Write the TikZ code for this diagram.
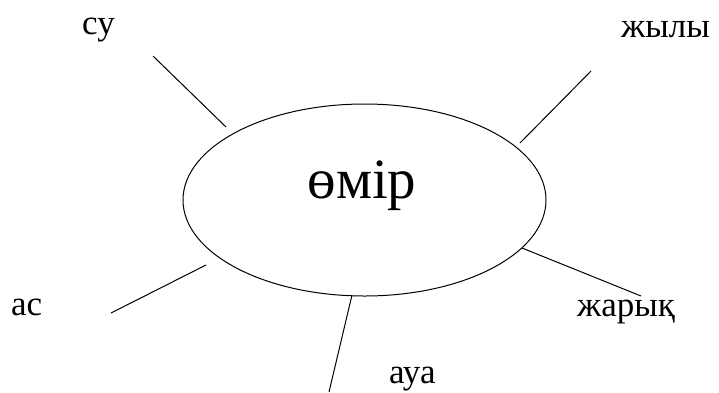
\documentclass[tikz,border=0pt]{standalone}
\usepackage{fontspec}
\setmainfont{Liberation Serif}
\usetikzlibrary{shapes.geometric}
\begin{document}
\begin{tikzpicture}[x=1pt,y=-1pt,
  lbl/.style={font=\fontsize{35}{37}\selectfont, inner sep=0pt, anchor=base west},
  ray/.style={line width=1pt}]
\useasboundingbox (0,0) rectangle (719,392);
\node[draw, line width=1pt, ellipse, minimum width=363pt, minimum height=192pt, inner sep=0pt] (life) at (364.5,200) {};
\node[font=\fontsize{57}{60}\selectfont, inner sep=0pt, anchor=base] (word) at (362,198) {өмір};
\node[lbl] (su) at (82,34.5) {су};
\node[lbl] (zhyly) at (621,37) {жылы};
\node[lbl] (as) at (11,315) {ас};
\node[lbl] (zharyk) at (577,316) {жарық};
\node[lbl] (aua) at (389,383) {ауа};
\coordinate (su1) at (153,56);  \coordinate (su2) at (226,127);
\coordinate (zh1) at (591,71);  \coordinate (zh2) at (520,143);
\coordinate (as1) at (111,313); \coordinate (as2) at (206,265);
\coordinate (zk1) at (522,248); \coordinate (zk2) at (641,296);
\coordinate (au1) at (352,295); \coordinate (au2) at (329,392);
\draw[ray] (su1) -- (su2);
\draw[ray] (zh1) -- (zh2);
\draw[ray] (as1) -- (as2);
\draw[ray] (zk1) -- (zk2);
\draw[ray] (au1) -- (au2);
\end{tikzpicture}
\end{document}
